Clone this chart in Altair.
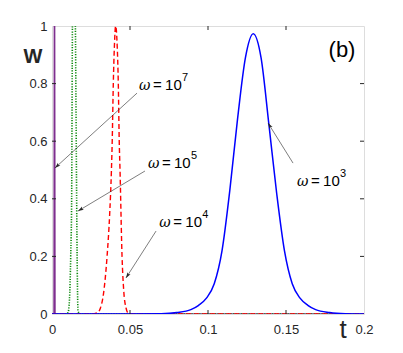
import math
import altair as alt
import pandas as pd

# ---------------- data ----------------
# omega = 1e3 (blue, solid)
t_blue = [0.0, 0.05, 0.07, 0.08, 0.089, 0.094, 0.099, 0.104, 0.109, 0.114, 0.119,
          0.124, 0.129, 0.134, 0.139, 0.144, 0.149, 0.154, 0.159, 0.164, 0.169,
          0.178, 0.188, 0.2]
w_blue = [0.0, 0.0, 0.001, 0.005, 0.015, 0.03, 0.055, 0.105, 0.22, 0.43, 0.68,
          0.89, 0.973, 0.89, 0.66, 0.42, 0.22, 0.105, 0.055, 0.03, 0.015,
          0.005, 0.001, 0.0]

# omega = 1e4 (red, dashed)
t_red = [0.0, 0.025, 0.029, 0.031, 0.033, 0.0353, 0.037, 0.0381, 0.0386, 0.0393,
         0.040, 0.0408, 0.0418, 0.0425, 0.0431, 0.0436, 0.0449, 0.046, 0.0475,
         0.0487, 0.052, 0.2]
w_red = [0.0, 0.0, 0.004, 0.02, 0.07, 0.2, 0.35, 0.5, 0.6, 0.8,
         0.93, 1.0, 0.93, 0.8, 0.6, 0.5, 0.2, 0.08, 0.02,
         0.004, 0.0, 0.0]

# omega = 1e5 (green, dotted)
t_green = [0.0, 0.009, 0.0103, 0.0112, 0.012, 0.0126, 0.0131, 0.0140, 0.0150,
           0.0158, 0.0162, 0.0167, 0.018, 0.2]
w_green = [0.0, 0.0, 0.005, 0.05, 0.2, 0.4, 1.0, 1.3, 1.0,
           0.4, 0.15, 0.01, 0.0, 0.0]

# omega = 1e7 (purple, solid)
t_purple = [0.0, 0.0013, 0.0016, 0.0019, 0.2]
w_purple = [0.0, 0.0, 1.3, 0.0, 0.0]

x_tick_values = [0, 0.05, 0.1, 0.15, 0.2]
y_tick_values = [0, 0.2, 0.4, 0.6, 0.8, 1]
x_inner_ticks = [0.05, 0.1, 0.15]
y_inner_ticks = [0.2, 0.4, 0.6, 0.8]

# annotations: text anchor (left, baseline) and arrows tail -> tip
label_exp = ["7", "5", "4", "3"]
label_t = [0.0558, 0.0615, 0.0688, 0.1571]
label_w = [0.778, 0.507, 0.302, 0.444]

arrow_t0 = [0.0545, 0.0596, 0.0667, 0.1545]
arrow_w0 = [0.767, 0.4965, 0.288, 0.524]
arrow_t1 = [0.0019, 0.0167, 0.0474, 0.1385]
arrow_w1 = [0.507, 0.3576, 0.125, 0.663]

# ---------------- styling ----------------
PW, PH = 312, 288
T_MAX, W_MAX = 0.2, 1.0
FONT = "Liberation Sans"
INK = "#262626"

xs = alt.Scale(domain=[0, T_MAX], nice=False, zero=False)
ys = alt.Scale(domain=[0, W_MAX], nice=False, zero=False)

x_axis = alt.Axis(values=x_tick_values, format="~g", ticks=False, domain=False,
                  grid=False, labelPadding=9, labelFlush=False, labelOverlap=False,
                  labelBound=False, labelFontSize=13, labelFont=FONT,
                  labelColor=INK, title=None)
y_axis = alt.Axis(values=y_tick_values, format="~g", ticks=False, domain=False,
                  grid=False, labelPadding=5, labelFlush=False, labelOverlap=False,
                  labelBound=False, labelFontSize=13, labelFont=FONT,
                  labelColor=INK, title=None)


def X(field):
    return alt.X(field, scale=xs, axis=x_axis)


def Y(field):
    return alt.Y(field, scale=ys, axis=y_axis)


def line_layer(t, w, color, width, dash=None, interp="monotone"):
    kw = dict(color=color, strokeWidth=width, interpolate=interp, clip=True)
    if dash is not None:
        kw["strokeDash"] = dash
    return alt.Chart(pd.DataFrame({"t": t, "w": w})).mark_line(**kw).encode(
        x=X("t:Q"), y=Y("w:Q"))


purple = line_layer(t_purple, w_purple, "#7E2F8E", 1.5, interp="linear")
green = line_layer(t_green, w_green, "#0f8a0f", 1.6, dash=[1.2, 1.4])
red = line_layer(t_red, w_red, "#ff0000", 1.4, dash=[5, 3])
blue = line_layer(t_blue, w_blue, "#0000ff", 1.5)

# inward ticks on all four sides
xt = pd.DataFrame({"t": x_inner_ticks})
yt = pd.DataFrame({"w": y_inner_ticks})
tick_kw = dict(color=INK, strokeWidth=1)
tick_bottom = alt.Chart(xt).mark_rule(**tick_kw).encode(
    x=X("t:Q"), y=alt.value(PH), y2=alt.value(PH - 4))
tick_top = alt.Chart(xt).mark_rule(**tick_kw).encode(
    x=X("t:Q"), y=alt.value(0), y2=alt.value(4))
tick_left = alt.Chart(yt).mark_rule(**tick_kw).encode(
    y=Y("w:Q"), x=alt.value(0), x2=alt.value(4))
tick_right = alt.Chart(yt).mark_rule(**tick_kw).encode(
    y=Y("w:Q"), x=alt.value(PW), x2=alt.value(PW - 4))

# arrows
arr = pd.DataFrame({"t": arrow_t0, "w": arrow_w0, "t1": arrow_t1, "w1": arrow_w1})
angles = []
for a, b, c, d in zip(arrow_t0, arrow_w0, arrow_t1, arrow_w1):
    dxp = (c - a) / T_MAX * PW
    dyp = -(d - b) / W_MAX * PH
    angles.append(math.degrees(math.atan2(dxp, -dyp)) % 360)
arr["angle"] = angles

arrow_lines = alt.Chart(arr).mark_rule(color=INK, strokeWidth=0.6).encode(
    x=X("t:Q"), y=Y("w:Q"), x2="t1:Q", y2="w1:Q")
heads = pd.DataFrame({"t": arrow_t1, "w": arrow_w1, "angle": angles})
arrow_heads = alt.Chart(heads).mark_point(
    shape="M0,0L-0.6,1.9L0,1.5L0.6,1.9Z", filled=True, size=36, color=INK,
    opacity=1, strokeWidth=0).encode(
    x=X("t:Q"), y=Y("w:Q"), angle=alt.Angle("angle:Q", scale=None))

# labels  "ω = 10^k"
lab = pd.DataFrame({"t": label_t, "w": label_w, "e": label_exp})
txt_kw = dict(align="left", baseline="alphabetic", color="#000000")
lab_omega = alt.Chart(lab).mark_text(text="ω", font="DejaVu Serif", fontStyle="italic",
                                     fontSize=14, **txt_kw).encode(x=X("t:Q"), y=Y("w:Q"))
lab_eq = alt.Chart(lab).mark_text(text="=", font=FONT, fontSize=15, dx=14,
                                  **txt_kw).encode(x=X("t:Q"), y=Y("w:Q"))
lab_ten = alt.Chart(lab).mark_text(text="10", font=FONT, fontSize=15, dx=26,
                                   **txt_kw).encode(x=X("t:Q"), y=Y("w:Q"))
lab_exp = alt.Chart(lab).mark_text(font=FONT, fontSize=11, dx=43, dy=-9,
                                   **txt_kw).encode(text="e:N", x=X("t:Q"), y=Y("w:Q"))

# titles / panel tag
one = pd.DataFrame({"a": [0]})
t_title = alt.Chart(one).mark_text(text="t", font=FONT, fontSize=26, align="center",
                                   baseline="alphabetic", color=INK).encode(
    x=alt.value(291), y=alt.value(312))
w_title = alt.Chart(one).mark_text(text="W", font=FONT, fontSize=20, fontWeight="bold",
                                   align="center", baseline="alphabetic",
                                   color=INK).encode(
    x=alt.value(-19), y=alt.value(37))
b_tag = alt.Chart(one).mark_text(text="(b)", font=FONT, fontSize=22, align="center",
                                 baseline="alphabetic", color="#000000").encode(
    x=alt.value(290), y=alt.value(31))

chart = alt.layer(
    purple, green, red, blue,
    tick_bottom, tick_top, tick_left, tick_right,
    arrow_lines, arrow_heads,
    lab_omega, lab_eq, lab_ten, lab_exp,
    t_title, w_title, b_tag,
).properties(
    width=PW, height=PH,
    padding={"left": 44, "top": 18, "right": 31, "bottom": 31},
    autosize=alt.AutoSizeParams(type="none"),
).configure_view(stroke=INK, strokeWidth=1).configure(background="white")

chart.save("out.html", embed_options={"renderer": "svg", "actions": False})
